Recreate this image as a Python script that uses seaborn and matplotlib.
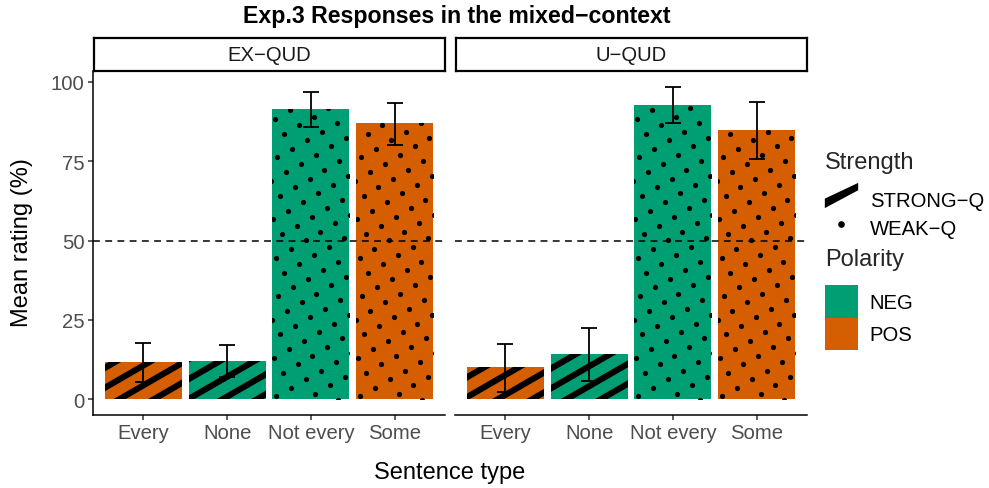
import numpy as np
import pandas as pd
import matplotlib
matplotlib.use("Agg")
import matplotlib.pyplot as plt
import seaborn as sns
from matplotlib.collections import LineCollection
from matplotlib.transforms import IdentityTransform
from matplotlib.lines import Line2D
from matplotlib.patches import Patch
from matplotlib.path import Path

# ---------------- data ----------------
contexts = ["EX−QUD", "U−QUD"]
sentences = ["Every", "None", "Not every", "Some"]
polarity = ["POS", "NEG", "NEG", "POS"]
strength = ["STRONG−Q", "STRONG−Q", "WEAK−Q", "WEAK−Q"]
mean_ex = [11.8, 12.1, 91.5, 87.0]
lo_ex = [5.5, 7.0, 85.7, 80.0]
hi_ex = [17.9, 17.1, 96.9, 93.4]
mean_u = [10.1, 14.3, 92.8, 84.9]
lo_u = [2.3, 5.8, 87.0, 75.6]
hi_u = [17.4, 22.4, 98.5, 93.8]

pal = {"NEG": "#009E73", "POS": "#D55E00"}

rows = []
for ctx, m, lo, hi in [(contexts[0], mean_ex, lo_ex, hi_ex), (contexts[1], mean_u, lo_u, hi_u)]:
    for s, p, st, mv, l, h in zip(sentences, polarity, strength, m, lo, hi):
        rows.append(dict(Context=ctx, Sentence=s, Polarity=p, Strength=st, Mean=mv, Lo=l, Hi=h))
df = pd.DataFrame(rows)

# ---------------- style ----------------
sns.set_style("white")
plt.rcParams["font.family"] = ["Liberation Sans", "DejaVu Sans"]
plt.rcParams["axes.linewidth"] = 1.1

W, H = 989, 489
fig = plt.figure(figsize=(W / 100, H / 100), dpi=100)

def fx(px):
    return px / W

def fy(py):
    return 1 - py / H

FS = 14.6
panel_left = [93, 455]
panel_w = 352
top_px, bot_px = 72, 416
ylim = (-4.93, 103.43)
xlim = (-0.6, 3.6)
SP = 17.2  # pattern spacing in pixels

axes = []
for i, ctx in enumerate(contexts):
    ax = fig.add_axes([fx(panel_left[i]), fy(bot_px), fx(panel_w), (bot_px - top_px) / H])
    sub = df[df.Context == ctx]
    sns.barplot(data=sub, x="Sentence", y="Mean", hue="Polarity", hue_order=["NEG", "POS"],
                order=sentences, palette=pal, dodge=False, width=0.92, errorbar=None,
                legend=False, saturation=1, linewidth=0, ax=ax)
    ax.set_xlim(*xlim)
    ax.set_ylim(*ylim)
    ax.set_autoscale_on(False)

    # patterns
    for p in list(ax.patches):
        xc = p.get_x() + p.get_width() / 2
        idx = int(round(xc))
        st = strength[idx]
        (x0, y0) = ax.transData.transform((p.get_x(), p.get_y()))
        (x1, y1) = ax.transData.transform((p.get_x() + p.get_width(), p.get_y() + p.get_height()))
        corners = np.array([[x0, y0], [x1, y0], [x0, y1], [x1, y1]])
        ang = np.deg2rad(30)
        eu = np.array([np.cos(ang), np.sin(ang)])
        ev = np.array([np.sin(ang), -np.cos(ang)])
        if st.startswith("STRONG"):
            nvec = np.array([-np.sin(ang), np.cos(ang)])
            proj = corners @ nvec
            ks = np.arange(np.floor(proj.min() / SP) - 1, np.ceil(proj.max() / SP) + 2)
            segs = []
            for k in ks:
                c = k * SP * nvec
                segs.append([c - 3000 * eu, c + 3000 * eu])
            lc = LineCollection(segs, colors="black", linewidths=4.4,
                                transform=IdentityTransform(), zorder=3)
            ax.add_collection(lc)
            lc.set_clip_path(p)
        else:
            origin = np.array([x0 + 4, y0 + 3])
            pu = (corners - origin) @ eu
            pv = (corners - origin) @ ev
            pts = []
            for a in np.arange(np.floor(pu.min() / SP) - 1, np.ceil(pu.max() / SP) + 2):
                for b in np.arange(np.floor(pv.min() / SP) - 1, np.ceil(pv.max() / SP) + 2):
                    q = origin + a * SP * eu + b * SP * ev
                    if x0 - 4 <= q[0] <= x1 + 4 and y0 - 4 <= q[1] <= y1 + 4:
                        pts.append(q)
            pts = np.array(pts)
            sc = ax.scatter(pts[:, 0], pts[:, 1], s=14, color="black", linewidths=0,
                            transform=IdentityTransform(), zorder=3)
            sc.set_clip_path(p)

    ax.axhline(50, color="black", lw=1.1, ls=(0, (4.5, 3.5)), zorder=4)
    m = np.array(sub.Mean)
    ax.errorbar(np.arange(4), m, yerr=[m - np.array(sub.Lo), np.array(sub.Hi) - m],
                fmt="none", ecolor="black", elinewidth=1.3, capsize=5.5, capthick=1.3, zorder=5)
    ax.set_xlim(*xlim)
    ax.set_ylim(*ylim)

    ax.set_xlabel("")
    ax.set_ylabel("")
    for s in ["top", "right"]:
        ax.spines[s].set_visible(False)
    ax.spines["bottom"].set_color("black")
    ax.spines["left"].set_color("black")
    ax.tick_params(axis="both", which="both", length=3.5, width=1.1, color="#333333",
                   labelcolor="#4D4D4D", labelsize=FS, pad=2.5, direction="out")
    ax.set_yticks([0, 25, 50, 75, 100])
    if i == 1:
        ax.spines["left"].set_visible(False)
        ax.tick_params(axis="y", left=False, labelleft=False)
    else:
        ax.tick_params(axis="y", left=True, labelleft=True)
    ax.tick_params(axis="x", bottom=True)
    axes.append(ax)

    # facet strip
    sax = fig.add_axes([fx(panel_left[i] + 1), fy(top_px), fx(panel_w - 1), 33 / H])
    sax.set_xticks([])
    sax.set_yticks([])
    sax.set_facecolor("white")
    for s in sax.spines.values():
        s.set_visible(True)
        s.set_color("black")
        s.set_linewidth(1.6)
    sax.text(0.5, 0.5, ctx, ha="center", va="center", fontsize=FS, color="#1A1A1A",
             transform=sax.transAxes)

# titles
fig.text(fx(457), fy(17), "Exp.3 Responses in the mixed−context", ha="center", va="center",
         fontsize=16.7, fontweight="bold", color="black")
fig.text(fx(450), fy(473), "Sentence type", ha="center", va="center", fontsize=17, color="black")
fig.text(fx(22), fy(243), "Mean rating (%)", ha="center", va="center", rotation=90,
         fontsize=17, color="black")

# legends
stroke = Path([(-16.5, -12.5), (16.5, 5.2), (16.5, 12.5), (-16.5, -3.1), (-16.5, -12.5)],
              [Path.MOVETO, Path.LINETO, Path.LINETO, Path.LINETO, Path.CLOSEPOLY])
h_strength = [
    Line2D([], [], linestyle="none", marker=stroke, markersize=24, markerfacecolor="black",
           markeredgecolor="black", markeredgewidth=0),
    Line2D([], [], linestyle="none", marker="o", markersize=4.8, markerfacecolor="black",
           markeredgecolor="black", markeredgewidth=0),
]
leg1 = fig.legend(h_strength, ["STRONG−Q", "WEAK−Q"], title="Strength", loc="upper left",
                  bbox_to_anchor=(fx(825), fy(152)), frameon=False, fontsize=FS,
                  title_fontsize=17, handlelength=1.62, handleheight=1.8, handletextpad=0.58,
                  labelspacing=0.0, borderpad=0, borderaxespad=0, alignment="left")
h_pol = [Patch(facecolor=pal["NEG"], edgecolor="none"), Patch(facecolor=pal["POS"], edgecolor="none")]
leg2 = fig.legend(h_pol, ["NEG", "POS"], title="Polarity", loc="upper left",
                  bbox_to_anchor=(fx(825), fy(249)), frameon=False, fontsize=FS,
                  title_fontsize=17, handlelength=1.62, handleheight=2.08, handletextpad=0.58,
                  labelspacing=0.0, borderpad=0, borderaxespad=0, alignment="left")
leg1._legend_box.sep = 8.5
leg2._legend_box.sep = 11.0
for lg in (leg1, leg2):
    for t in lg.get_texts():
        t.set_color("black")

fig.savefig("out.png", dpi=100)
